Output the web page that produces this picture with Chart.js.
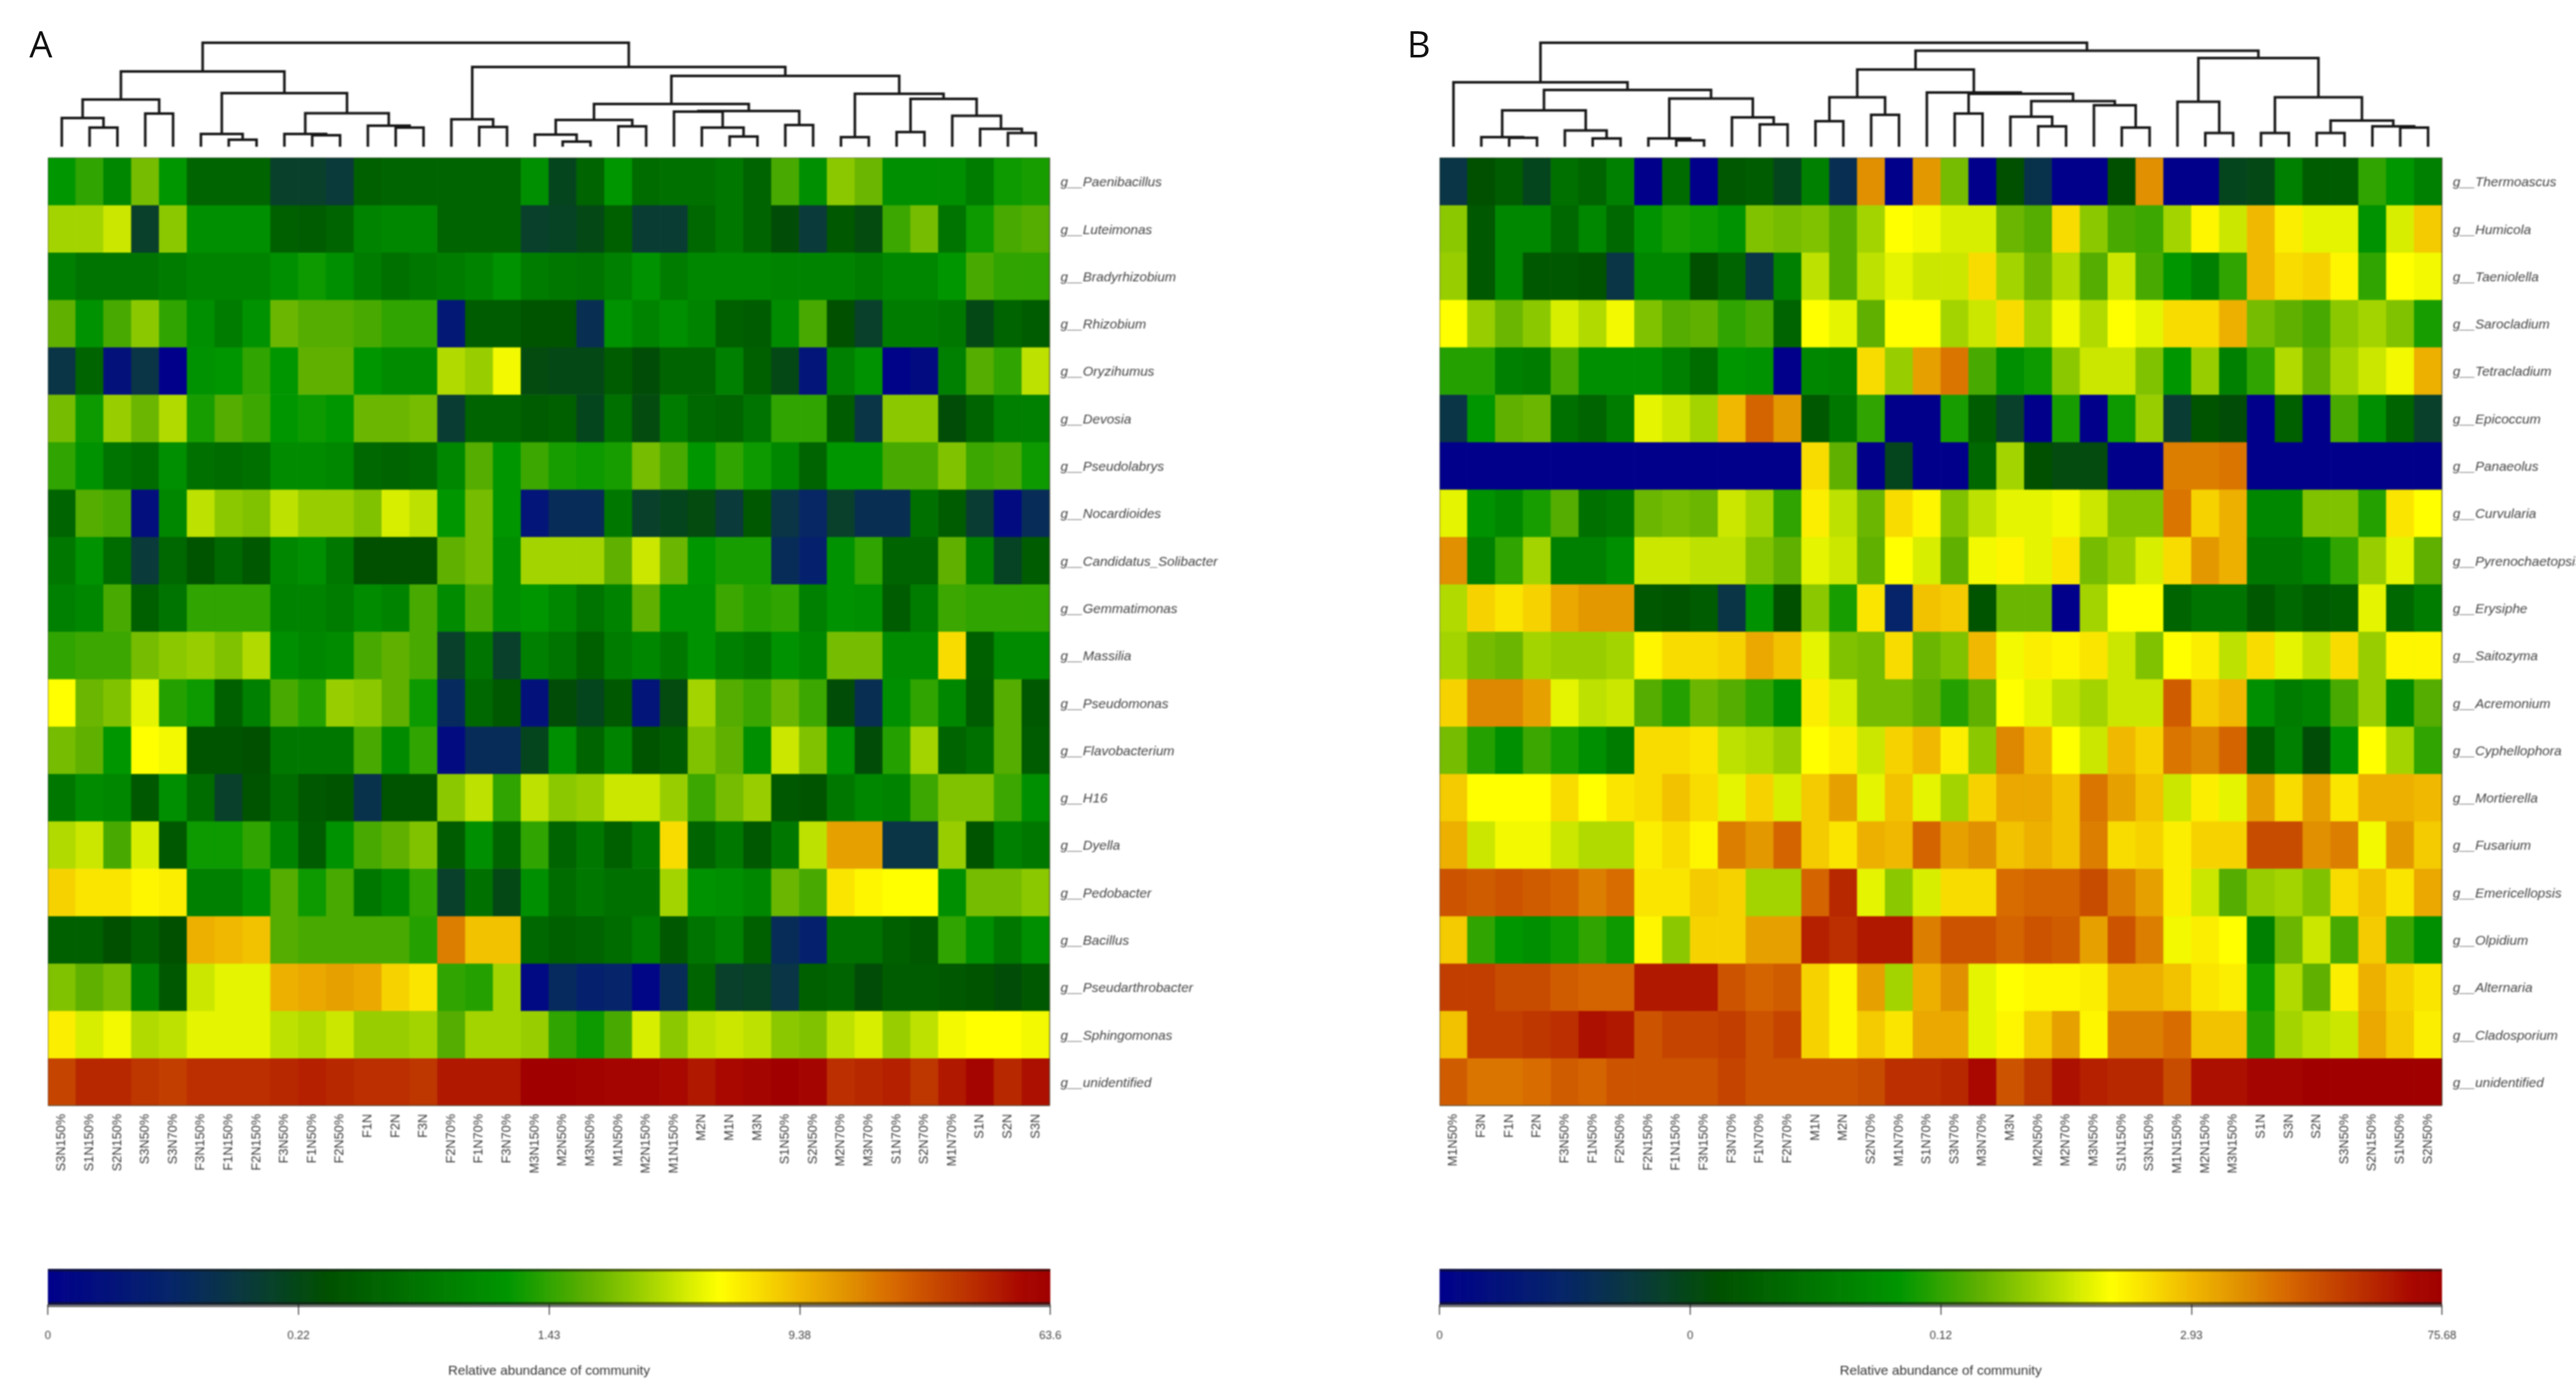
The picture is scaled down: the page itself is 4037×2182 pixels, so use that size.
<!DOCTYPE html>
<html>
<head>
<meta charset="utf-8">
<title>Relative abundance heatmaps</title>
<script src="https://cdn.jsdelivr.net/npm/chart.js@4/dist/chart.umd.min.js"></script>
<style>
  html, body { margin: 0; padding: 0; background: #fff; }
  body { width: 4037px; height: 2182px; position: relative; overflow: hidden; }
  .box { position: absolute; filter: blur(0.8px); }
  .letter { position: absolute; font-family: "Open Sans"; font-size: 57px; line-height: 57px; color: #111; }
</style>
</head>
<body>
<div class="letter" style="left:46px;top:40px">A</div>
<div class="letter" style="left:2205px;top:40px">B</div>
<script>
var columnsA = ["S3N150%","S1N150%","S2N150%","S3N50%","S3N70%","F3N150%","F1N150%","F2N150%","F3N50%","F1N50%","F2N50%","F1N","F2N","F3N","F2N70%","F1N70%","F3N70%","M3N150%","M2N50%","M3N50%","M1N50%","M2N150%","M1N150%","M2N","M1N","M3N","S1N50%","S2N50%","M2N70%","M3N70%","S1N70%","S2N70%","M1N70%","S1N","S2N","S3N"];
var columnsB = ["M1N50%","F3N","F1N","F2N","F3N50%","F1N50%","F2N50%","F2N150%","F1N150%","F3N150%","F3N70%","F1N70%","F2N70%","M1N","M2N","S2N70%","M1N70%","S1N70%","S3N70%","M3N70%","M3N","M2N50%","M2N70%","M3N50%","S1N150%","S3N150%","M1N150%","M2N150%","M3N150%","S1N","S3N","S2N","S3N50%","S2N150%","S1N50%","S2N50%"];

var generaA = ["g__Paenibacillus","g__Luteimonas","g__Bradyrhizobium","g__Rhizobium","g__Oryzihumus","g__Devosia","g__Pseudolabrys","g__Nocardioides","g__Candidatus_Solibacter","g__Gemmatimonas","g__Massilia","g__Pseudomonas","g__Flavobacterium","g__H16","g__Dyella","g__Pedobacter","g__Bacillus","g__Pseudarthrobacter","g__Sphingomonas","g__unidentified"];
var generaB = ["g__Thermoascus","g__Humicola","g__Taeniolella","g__Sarocladium","g__Tetracladium","g__Epicoccum","g__Panaeolus","g__Curvularia","g__Pyrenochaetopsis","g__Erysiphe","g__Saitozyma","g__Acremonium","g__Cyphellophora","g__Mortierella","g__Fusarium","g__Emericellopsis","g__Olpidium","g__Alternaria","g__Cladosporium","g__unidentified"];

// values are positions on the colour key, 0 (left end) to 100 (right end)
var heatA = [
  [46,50,42,56,46,33,33,33,22,22,20,32,33,33,33,33,33,44,24,33,46,35,36,36,38,33,52,44,58,55,44,44,44,39,47,48],
  [60,60,63,22,58,44,44,44,32,31,33,41,42,42,33,33,33,22,23,25,32,21,21,34,38,33,27,20,30,26,51,56,37,47,52,53],
  [40,37,37,37,39,41,41,41,44,47,44,39,36,38,39,41,45,39,38,37,40,45,39,42,42,42,41,41,41,39,42,42,46,52,50,50],
  [54,45,52,58,50,44,39,45,55,53,53,52,50,50,8,31,31,29,29,16,45,41,44,41,32,31,43,52,28,22,39,39,38,25,33,31],
  [18,33,6,18,0,45,46,50,46,54,54,46,43,43,61,59,66,26,25,25,31,27,33,33,40,32,25,7,40,45,1,4,40,53,50,62],
  [56,47,59,55,61,48,53,51,46,47,46,55,55,56,21,33,33,31,32,24,36,26,39,34,33,37,50,50,31,18,58,58,27,33,40,40],
  [50,45,37,35,44,36,35,36,43,43,42,34,33,34,42,53,46,51,48,47,48,56,52,46,50,47,42,33,46,46,52,52,57,51,52,47],
  [33,53,52,5,42,62,58,57,62,59,59,57,64,62,46,56,46,7,15,15,38,22,24,26,20,30,18,13,22,16,16,36,31,21,4,15],
  [38,45,35,20,34,29,34,30,42,44,38,28,28,28,54,56,44,60,60,60,54,63,55,46,48,48,15,11,45,50,33,33,54,40,23,31],
  [40,42,52,32,37,50,50,50,41,41,39,43,41,52,43,52,44,46,42,37,41,54,45,45,51,49,50,40,45,44,31,39,51,50,50,50],
  [50,51,51,56,58,59,57,61,44,42,43,52,54,52,22,37,22,40,37,32,39,42,38,45,40,38,45,42,56,56,43,43,71,32,43,43],
  [67,55,57,65,49,47,32,40,52,49,59,58,54,47,14,34,30,6,27,24,30,7,26,60,53,51,55,51,27,16,44,50,42,31,53,30],
  [56,54,46,67,66,29,29,28,38,38,38,52,43,50,4,15,15,24,44,33,41,29,31,57,54,44,63,57,45,27,49,60,33,36,53,31],
  [38,43,42,30,44,35,22,29,35,30,29,17,29,29,58,62,50,62,58,59,63,63,59,51,56,59,30,29,38,42,41,51,57,57,51,44],
  [61,63,52,64,30,47,47,50,41,31,45,52,54,57,31,44,33,50,33,38,32,38,71,33,38,30,38,62,78,78,18,18,59,29,40,38],
  [72,70,70,68,69,40,40,45,53,47,52,38,42,50,22,36,25,44,35,38,36,36,60,45,44,42,55,52,70,68,67,67,44,56,56,58],
  [32,32,28,32,28,76,75,74,53,52,52,52,52,49,82,74,74,34,32,33,35,39,30,37,40,32,15,11,36,36,32,30,50,44,38,44],
  [57,54,56,40,30,63,65,65,76,77,78,77,72,70,50,49,60,3,14,11,12,2,15,33,22,23,18,32,33,27,31,31,30,29,27,30],
  [69,64,66,61,62,65,65,65,62,61,63,59,59,60,53,60,60,59,50,47,52,64,58,62,63,62,58,57,62,64,59,62,66,67,67,66],
  [89,93,93,91,90,92,92,92,93,94,93,92,92,91,95,95,95,100,100,99,98,98,97,95,97,98,100,98,92,93,94,91,95,98,93,96]
];
var heatB = [
  [18,28,31,24,36,33,40,0,35,0,30,31,24,40,16,80,0,79,56,0,28,17,0,0,28,80,0,0,24,25,40,31,31,50,46,40],
  [58,30,42,42,34,42,34,45,48,47,45,57,56,57,53,60,67,66,64,64,55,53,71,58,52,51,60,68,63,75,69,65,65,45,64,73],
  [59,30,42,30,30,29,18,42,42,28,33,18,40,62,53,62,65,63,63,71,60,55,61,53,63,52,46,40,50,75,71,72,68,50,67,66],
  [67,59,55,58,64,61,66,57,53,54,50,52,33,67,65,54,67,67,60,63,71,60,66,61,67,65,71,71,76,56,54,52,58,60,57,48],
  [49,49,40,39,52,44,44,44,40,35,46,45,0,42,41,71,59,78,83,52,44,47,58,63,63,57,46,59,40,50,61,54,60,63,66,76],
  [18,46,54,55,36,33,39,65,63,60,75,85,79,30,38,50,0,0,48,31,22,0,48,0,47,59,21,29,27,0,32,0,52,44,33,22],
  [0,0,0,0,0,0,0,0,0,0,0,0,0,71,54,0,24,0,0,34,60,28,26,26,0,0,82,82,83,0,0,0,0,0,0,0],
  [65,45,42,48,53,36,38,55,56,55,63,60,50,69,62,55,71,68,57,62,65,65,66,63,57,57,83,72,76,42,42,57,57,49,70,67],
  [80,40,50,60,40,40,44,63,63,62,62,57,54,65,63,54,67,64,54,66,68,65,70,56,59,64,71,79,76,38,38,41,50,59,65,54],
  [61,72,70,72,77,79,79,30,29,31,18,45,28,58,48,70,12,74,73,29,55,55,0,60,67,67,33,37,37,30,34,31,32,65,34,39],
  [60,56,55,60,59,59,60,68,71,71,72,77,74,65,57,56,71,55,57,75,66,69,68,70,63,57,67,69,62,71,65,62,71,59,68,68],
  [72,81,81,78,65,62,63,53,49,55,53,50,44,69,64,56,56,54,49,54,67,65,62,60,63,63,86,73,75,44,39,41,52,59,43,53],
  [56,49,44,51,48,44,39,71,71,70,62,61,59,67,69,63,72,75,69,58,81,75,67,63,75,72,83,81,85,31,40,27,45,67,60,50],
  [73,67,67,67,71,67,70,71,74,71,65,72,64,73,78,65,74,65,60,72,77,77,74,83,78,74,63,69,65,78,71,78,70,76,76,75],
  [76,63,66,66,63,61,61,69,71,68,82,79,85,73,70,76,75,85,78,80,74,76,74,82,71,72,69,72,72,88,88,80,82,66,79,73],
  [87,86,87,86,85,82,84,70,70,73,72,60,60,85,93,65,58,64,71,71,84,85,85,88,82,78,69,63,53,59,60,57,71,74,70,77],
  [73,50,46,44,47,50,47,68,58,72,72,78,78,94,92,95,95,82,87,87,85,87,86,78,87,82,66,69,67,40,55,63,52,73,51,44],
  [90,90,88,88,86,85,85,95,95,95,87,85,86,72,68,78,60,76,80,65,67,68,68,69,76,76,74,70,69,47,61,54,69,76,72,70],
  [74,90,90,91,92,96,95,87,89,89,90,87,89,72,68,73,70,77,77,65,68,73,78,68,82,82,84,74,74,49,60,62,63,77,73,69],
  [86,83,83,84,86,85,87,87,87,87,89,87,87,87,87,88,92,92,93,97,87,91,96,94,93,93,88,96,96,98,98,100,100,100,100,100]
];

// dendrograms: [height, left, right], a null child is the next column
var treeA = [163,
  [118,
    [74, [45, null, [30, null, null]], [52, null, null]],
    [84, [20, null, [11, null, null]],
      [52.5, [20, null, [18, null, null]], [33, null, [30, null, null]]]]],
  [125,
    [43, null, [31, null, null]],
    [111,
      [67,
        [42, [19, null, [8, null, null]], [32, null, null]],
        [56, [55, null, [30, null, [16, null, null]]], [34, null, null]]],
      [83,
        [15, null, null],
        [75, [23, null, null],
          [48.5, null, [28, null, [21.5, null, null]]]]]]]];
var treeB = [163,
  [101, null,
    [89,
      [57, [15, null, [14, null, null]], [25.5, null, [13, null, null]]],
      [75.5, [13, null, [10, null, null]], [46, null, [35, null, null]]]]],
  [150.5,
    [121,
      [77.5, [40, null, null], [50, null, null]],
      [85, null,
        [83, [52, null, null],
          [71.4, [47, null, [32, null, null]], [65, null, [30, null, null]]]]]],
    [139,
      [70.4, null, [21.5, null, null]],
      [77.5, [21.5, null, null],
        [41, [21.5, null, null], [32, null, [30, null, null]]]]]]];

var keyTicksA = ["0","0.22","1.43","9.38","63.6"];
var keyTicksB = ["0","0","0.12","2.93","75.68"];
var keyTickPositions = [0, 25, 50, 75, 100];
var keyTitle = "Relative abundance of community";

var colourStops = [
  [0,"#00008b"],[12,"#05246a"],[20,"#0a3a3a"],[28,"#005000"],[33,"#006400"],[40,"#008000"],[46,"#009600"],
  [50,"#30a400"],[54,"#60b000"],[58,"#8cc800"],[61,"#b0da00"],[64,"#d8ee00"],[67,"#ffff00"],[71,"#f8dc00"],
  [75,"#f0b800"],[80,"#e09000"],[84,"#d86c00"],[88,"#c84c00"],[93,"#b82800"],[97,"#a80800"],[100,"#a00000"]
];

function hexPart(hex, i) {
  return parseInt(hex.substr(1 + i * 2, 2), 16);
}

function colourOf(v) {
  for (var i = 1; i < colourStops.length; i++) {
    if (v <= colourStops[i][0]) {
      var a = colourStops[i - 1], b = colourStops[i];
      var t = (v - a[0]) / (b[0] - a[0]);
      var rgb = [0, 1, 2].map(function (k) {
        return Math.round(hexPart(a[1], k) + (hexPart(b[1], k) - hexPart(a[1], k)) * t);
      });
      return "rgb(" + rgb.join(",") + ")";
    }
  }
  return colourStops[colourStops.length - 1][1];
}

function makeCanvas(left, top, width, height) {
  var c = document.createElement("canvas");
  c.className = "box";
  c.style.left = left + "px";
  c.style.top = top + "px";
  c.style.width = width + "px";
  c.style.height = height + "px";
  c.width = width;
  c.height = height;
  document.body.appendChild(c);
  return c;
}

var framePlugin = {
  id: "frame",
  afterDatasetsDraw: function (chart, args, opts) {
    var a = chart.chartArea, ctx = chart.ctx;
    ctx.save();
    ctx.strokeStyle = opts.color;
    ctx.lineWidth = opts.width;
    ctx.beginPath();
    ctx.moveTo(a.left, a.top);
    ctx.lineTo(a.right, a.top);
    ctx.moveTo(a.left, a.bottom);
    ctx.lineTo(a.right, a.bottom);
    if (opts.sides) {
      ctx.moveTo(a.left, a.top);
      ctx.lineTo(a.left, a.bottom);
      ctx.moveTo(a.right, a.top);
      ctx.lineTo(a.right, a.bottom);
    }
    ctx.stroke();
    ctx.restore();
  }
};

function drawHeatmap(left, width, rightSpace, columns, genera, heat) {
  var top = 247, areaH = 1486, labelH = 130;
  var datasets = heat.map(function (row, r) {
    return {
      data: row.map(function () { return [r, r + 1]; }),
      backgroundColor: row.map(colourOf),
      borderWidth: 0,
      barPercentage: 1,
      categoryPercentage: 1,
      grouped: false
    };
  });
  new Chart(makeCanvas(left, top, width + rightSpace, areaH + labelH), {
    type: "bar",
    data: { labels: columns, datasets: datasets },
    plugins: [framePlugin],
    options: {
      responsive: false,
      animation: false,
      events: [],
      layout: { padding: 0, autoPadding: false },
      plugins: {
        legend: { display: false },
        tooltip: { enabled: false },
        frame: { color: "rgba(60,60,40,0.6)", width: 2, sides: true }
      },
      scales: {
        x: {
          grid: { display: false },
          border: { display: false },
          afterFit: function (s) { s.height = labelH; s.paddingLeft = 0; s.paddingRight = 0; },
          ticks: {
            autoSkip: false, minRotation: 90, maxRotation: 90, padding: 5,
            color: "#3a3a3a",
            font: { family: "Liberation Sans", size: 20 }
          }
        },
        y: {
          type: "linear", position: "right", min: 0, max: genera.length, reverse: true,
          grid: { display: false },
          border: { display: false },
          afterFit: function (s) { s.width = rightSpace; s.paddingTop = 0; s.paddingBottom = 0; },
          afterBuildTicks: function (s) {
            s.ticks = genera.map(function (g, i) { return { value: i + 0.53 }; });
          },
          ticks: {
            autoSkip: false, padding: 9,
            color: "#444",
            font: { family: "Liberation Sans", size: 21, style: "italic" },
            callback: function (v, i) { return genera[i]; }
          }
        }
      }
    }
  });
}

function drawTree(left, width, tree) {
  var segments = [];
  var nextColumn = 0;
  function walk(node) {
    if (node === null) {
      nextColumn++;
      return { x: nextColumn - 0.5, h: 0 };
    }
    var a = walk(node[1]);
    var b = walk(node[2]);
    segments.push([{ x: a.x, y: a.h }, { x: a.x, y: node[0] }, { x: b.x, y: node[0] }, { x: b.x, y: b.h }]);
    return { x: (a.x + b.x) / 2, h: node[0] };
  }
  walk(tree);
  new Chart(makeCanvas(left, 50, width, 180), {
    type: "scatter",
    data: {
      datasets: segments.map(function (s) {
        return { data: s, showLine: true, borderColor: "#161616", borderWidth: 4, pointRadius: 0, clip: false, tension: 0 };
      })
    },
    options: {
      responsive: false,
      animation: false,
      events: [],
      layout: { autoPadding: false },
      plugins: { legend: { display: false }, tooltip: { enabled: false } },
      scales: {
        x: { type: "linear", min: 0, max: 36, display: false },
        y: { type: "linear", min: 0, max: 180, display: false }
      }
    }
  });
}

function drawKey(left, width, tickLabels) {
  var pad = 50, top = 1989, areaH = 56, height = 173;
  var slices = [];
  for (var v = 0.125; v < 100; v += 0.25) {
    slices.push({ x: v, y: 1 });
  }
  new Chart(makeCanvas(left - pad, top, width + pad * 2, height), {
    type: "bar",
    data: {
      datasets: [{
        data: slices,
        backgroundColor: slices.map(function (s) { return colourOf(s.x); }),
        borderWidth: 0,
        barPercentage: 1,
        categoryPercentage: 1
      }]
    },
    plugins: [framePlugin],
    options: {
      responsive: false,
      animation: false,
      events: [],
      layout: { padding: { left: pad, right: pad }, autoPadding: false },
      plugins: {
        legend: { display: false },
        tooltip: { enabled: false },
        frame: { color: "rgba(20,20,20,0.6)", width: 8, sides: false }
      },
      scales: {
        x: {
          type: "linear", min: 0, max: 100, offset: false,
          grid: { offset: false, drawOnChartArea: false, color: "#333", tickLength: 16, lineWidth: 1.5 },
          border: { display: false },
          afterFit: function (s) { s.height = height - areaH; },
          afterBuildTicks: function (s) {
            s.ticks = keyTickPositions.map(function (p) { return { value: p }; });
          },
          ticks: {
            autoSkip: false, maxRotation: 0, padding: 22,
            color: "#444",
            font: { family: "Liberation Sans", size: 18 },
            callback: function (v, i) { return tickLabels[i]; }
          },
          title: {
            display: true, text: keyTitle, color: "#333",
            font: { family: "Liberation Sans", size: 21 },
            padding: { top: 16, bottom: 0 }
          }
        },
        y: { min: 0, max: 1, display: false }
      }
    }
  });
}

drawTree(75, 1570, treeA);
drawTree(2256, 1571, treeB);
drawHeatmap(75, 1570, 400, columnsA, generaA, heatA);
drawHeatmap(2256, 1571, 210, columnsB, generaB, heatB);
drawKey(75, 1571, keyTicksA);
drawKey(2256, 1571, keyTicksB);
</script>
</body>
</html>
